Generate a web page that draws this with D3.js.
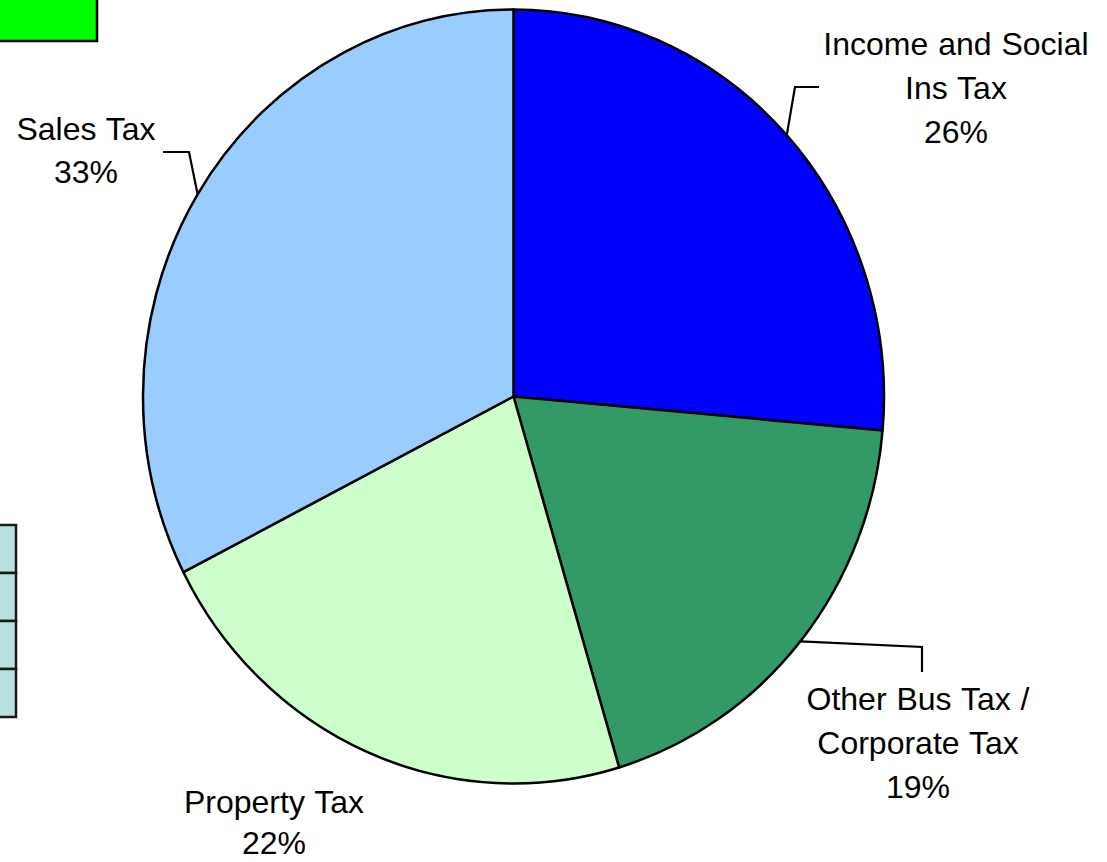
<!DOCTYPE html>
<html>
<head>
<meta charset="utf-8">
<script src="https://cdn.jsdelivr.net/npm/d3@7"></script>
<style>
  html, body { margin: 0; padding: 0; background: #ffffff; }
  svg { display: block; }
  text { font-family: "Liberation Sans", Arial, sans-serif; }
</style>
</head>
<body>
<svg id="chart" width="1107" height="862"></svg>
<script>
// ---- data ----
const categories = ["Income and Social Ins Tax", "Other Bus Tax / Corporate Tax", "Property Tax", "Sales Tax"];
const labelLines = [["Income and Social", "Ins Tax"], ["Other Bus Tax /", "Corporate Tax"], ["Property Tax"], ["Sales Tax"]];
const values = [26.4, 19.0, 22.1, 32.5];
const colors = ["#0000FF", "#339966", "#CCFFCC", "#99CCFF"];

// ---- layout (not data) ----
const W = 1107, H = 862;
const cx = 513.5, cy = 396.5, rx = 370.5, ry = 387;
const fontSize = 32, lineGap = 44;
// label anchor: text center x, first baseline y, line gap; leader: elbow & end (null = no leader)
const labelLayout = [
  { x: 956, y: 55, gap: 44, elbow: [795, 87], end: [819, 87] },
  { x: 918, y: 710, gap: 44, elbow: [922, 647], end: [922, 672] },
  { x: 274, y: 813, gap: 41, elbow: null, end: null },
  { x: 86, y: 140, gap: 43, elbow: [189, 152], end: [163, 152] }
];

const svg = d3.select("#chart");

// decorative partial elements at the edges
svg.append("rect")
  .attr("x", -10).attr("y", -10).attr("width", 107).attr("height", 51)
  .attr("fill", "#00FF00").attr("stroke", "#000").attr("stroke-width", 2.5);

const tableRows = d3.range(4);
svg.append("g").selectAll("rect").data(tableRows).join("rect")
  .attr("x", -10).attr("y", d => 525 + d * 48).attr("width", 26).attr("height", 48)
  .attr("fill", "#B9E1E1").attr("stroke", "#1a1a1a").attr("stroke-width", 2.5);

// pie
const pie = d3.pie().sort(null).value(d => d).startAngle(0).endAngle(2 * Math.PI);
const arcs = pie(values);
const arc = d3.arc().innerRadius(0).outerRadius(ry);

const g = svg.append("g").attr("transform", `translate(${cx},${cy}) scale(${rx / ry},1)`);
g.selectAll("path").data(arcs).join("path")
  .attr("d", arc)
  .attr("fill", (d, i) => colors[i])
  .attr("stroke", "#000")
  .attr("stroke-width", 2.5)
  .attr("stroke-linejoin", "round")
  .attr("vector-effect", "non-scaling-stroke");

// leader lines
const edgePoint = a => [cx + rx * Math.sin(a), cy - ry * Math.cos(a)];
arcs.forEach((d, i) => {
  const L = labelLayout[i];
  if (!L.elbow) return;
  const mid = (d.startAngle + d.endAngle) / 2;
  const p0 = edgePoint(mid);
  svg.append("polyline")
    .attr("points", [p0, L.elbow, L.end].map(p => p.join(",")).join(" "))
    .attr("fill", "none").attr("stroke", "#000").attr("stroke-width", 2.2);
});

// labels
const total = d3.sum(values);
arcs.forEach((d, i) => {
  const L = labelLayout[i];
  const lines = labelLines[i].concat([Math.round(values[i] / total * 100) + "%"]);
  const t = svg.append("text")
    .attr("text-anchor", "middle")
    .attr("font-size", fontSize)
    .attr("word-spacing", 1)
    .attr("fill", "#000");
  lines.forEach((s, k) => {
    t.append("tspan").attr("x", L.x).attr("y", L.y + k * L.gap).text(s);
  });
});
</script>
</body>
</html>
